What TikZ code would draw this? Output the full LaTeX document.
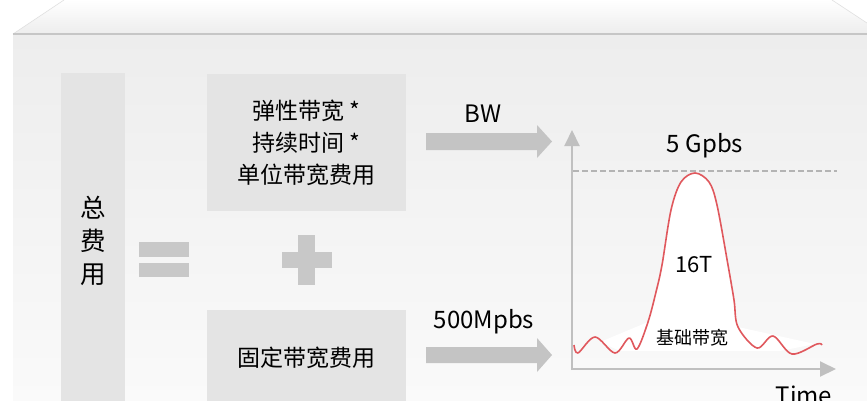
\documentclass[tikz,border=0pt]{standalone}
\usepackage{fontspec}
\newfontfamily\cjk{Noto Sans CJK SC}
\usetikzlibrary{arrows.meta}
\definecolor{boxgray}{HTML}{E4E4E4}
\definecolor{arrgray}{HTML}{C4C4C4}
\definecolor{symgray}{HTML}{C8C8C8}
\definecolor{panelTop}{HTML}{EDEDED}
\definecolor{panelBot}{HTML}{FAFAFA}
\definecolor{lineGray}{HTML}{C6C6C6}
\definecolor{axisGray}{HTML}{C0C0C0}
\definecolor{dashGray}{HTML}{B4B4B4}
\definecolor{curveRed}{HTML}{E0585D}
\begin{document}
\begin{tikzpicture}[x=1pt,y=-1pt,
  box/.style={fill=boxgray, draw=none, inner sep=0pt},
  lbl/.style={font=\cjk\fontsize{23}{32}\selectfont, align=center, inner sep=0pt, text=black},
  num/.style={font=\cjk\fontsize{24}{30}\selectfont, inner sep=0pt, text=black},
  blockarrow/.style={fill=arrgray, draw=none},
  sym/.style={fill=symgray, draw=none},
  axis/.style={draw=axisGray, line width=2pt, -{Triangle[width=15pt,length=16pt]}},
  limit/.style={draw=dashGray, line width=1.5pt, dash pattern=on 6pt off 3pt},
  curve/.style={draw=curveRed, line width=1.6pt, line join=round}]
\useasboundingbox (0,0) rectangle (867,400);
\clip (0,0) rectangle (867,400);
% background
\fill[white] (0,0) rectangle (867,400);
\shade[top color=white, bottom color=panelTop] (13,34) -- (64,0) -- (832,0) -- (867,23) -- (867,34) -- cycle;
\draw[draw=black!12, line width=0.6pt] (13,34) -- (64,0);
\draw[draw=black!12, line width=0.6pt] (832,0) -- (867,23);
\shade[top color=panelTop, bottom color=panelBot] (13,34) rectangle (867,400);
\draw[draw=lineGray, line width=1.2pt] (13,34) -- (867,34);

% left total box
\node[box, minimum width=64pt, minimum height=340pt, anchor=north west] (totalbox) at (61,73) {};
\node[lbl, font=\cjk\fontsize{25.5}{33}\selectfont] (total) at (93,241) {总\\费\\用};

% equals
\fill[sym] (139,242) rectangle (189,257);
\fill[sym] (139,263) rectangle (189,277);
% plus
\fill[sym] (298,235) rectangle (315,285);
\fill[sym] (282,252) rectangle (332,268);

% top box
\node[box, lbl, minimum width=199pt, minimum height=137pt] (elastic) at (306.5,142.5) {弹性带宽 *\\持续时间 *\\单位带宽费用};
% bottom box
\node[box, minimum width=199pt, minimum height=100pt, anchor=north west] (fixedbox) at (207,310) {};
\node[lbl] (fixed) at (306.5,358) {固定带宽费用};

% block arrows
\fill[blockarrow] (426,133) -- (537,133) -- (537,125) -- (552,141.5) -- (537,158) -- (537,150) -- (426,150) -- cycle;
\node[num] (bw) at (483,114) {BW};
\fill[blockarrow] (426,347) -- (537,347) -- (537,338) -- (552,355) -- (537,372) -- (537,363) -- (426,363) -- cycle;
\node[num] (base) at (484,322) {500Mpbs};

% chart
\fill[white] (600,342) -- plot[smooth, tension=0.55] coordinates {(648,322) (656,292) (662,265) (671,210) (681,182) (695,173) (709,182) (717,205) (728,265) (734,300) (738,327)} -- (815,344) -- (780,351) -- (620,351) -- cycle;
\coordinate (O) at (572,370);
\coordinate (ytip) at (572,130);
\coordinate (xtip) at (836,369);
\draw[axis] (572,370) -- (ytip);
\draw[axis] (571,369) -- (xtip);
\coordinate (d1) at (573,171);
\coordinate (d2) at (837,171);
\draw[limit] (d1) -- (d2);
\draw[curve] plot[smooth, tension=0.55] coordinates {(574,345) (578,353) (595,337) (615,353) (629,338) (637,349) (648,322) (656,292) (662,265) (671,210) (681,182) (695,173) (709,182) (717,205) (728,265) (734,300) (738,327) (757,348) (773,336) (792,354) (817,344) (822,345)};
\node[num] (peak) at (705,146) {5 Gpbs};
\node[font=\cjk\fontsize{22}{26}\selectfont, inner sep=0pt] (vol) at (694,265) {16T};
\node[font=\cjk\fontsize{18}{22}\selectfont, inner sep=0pt] (basic) at (692,338) {基础带宽};
\node[num, anchor=base] (time) at (804,404) {Time};
\end{tikzpicture}
\end{document}
